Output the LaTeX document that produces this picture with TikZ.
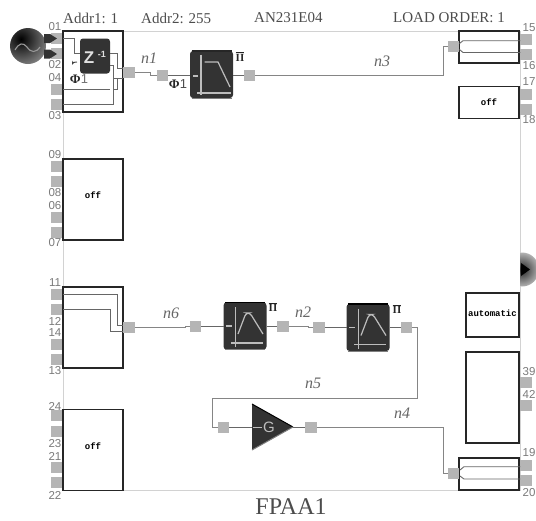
\documentclass[tikz,border=0pt]{standalone}
\usepackage{fontspec}
\setmainfont{Liberation Serif}
\setsansfont{Liberation Sans}
\setmonofont{Liberation Mono}
\usetikzlibrary{arrows.meta}
\definecolor{padgray}{HTML}{B5B5B5}
\definecolor{framegray}{HTML}{D2D2D2}
\definecolor{wiregray}{HTML}{858585}
\definecolor{linkgray}{HTML}{666666}
\definecolor{boxdark}{HTML}{333333}
\definecolor{icongray}{HTML}{BDBDBD}
\definecolor{labelgray}{HTML}{7A7A7A}
\tikzset{
  padbox/.style={fill=padgray,draw=none,minimum width=11.5pt,minimum height=11pt,inner sep=0pt,outer sep=0pt},
  cambox/.style={draw=black!85,line width=1.1pt,fill=white,inner sep=0pt,outer sep=0pt},
  darkbox/.style={fill=boxdark,draw=none,rounded corners=3pt,inner sep=0pt,outer sep=0pt,minimum width=43pt,minimum height=47pt},
  wire/.style={draw=wiregray,line width=0.6pt},
  inwire/.style={draw=linkgray,line width=0.9pt},
  pinlabel/.style={font=\sffamily\fontsize{11.5}{11.5}\selectfont,text=labelgray,inner sep=0pt},
  toptext/.style={font=\fontsize{15}{15}\selectfont,text=black!70,anchor=west,inner sep=0pt},
  netlabel/.style={font=\itshape\fontsize{16}{16}\selectfont,text=black!60,inner sep=0pt},
  modetext/.style={font=\ttfamily\bfseries\fontsize{9}{9}\selectfont,inner sep=0pt},
  clocktext/.style={font=\fontsize{13}{13}\selectfont,text=black!85,inner sep=0pt},
  phasetext/.style={font=\fontsize{11}{11}\selectfont,text=black!85,inner sep=0pt},
}
\newcommand{\lowpassicon}[1]{
  \begin{scope}[shift={(#1)},draw=icongray,line width=1.2pt]
  \draw (-10.5,-20) -- (-10.5,20);
  \draw (-14.5,18.5) -- (19.5,18.5);
  \draw (-18.5,1.5) -- (-13.5,1.5);
  \draw (-7,-12.5) -- (6.5,-12.5) -- (18.5,12.5);
  \draw[black!85] (-20,-23.5) -- (20,-23.5);
  \draw[gray] (-20,23.8) -- (20,23.8);
  \end{scope}
}
\newcommand{\bandpassicon}[1]{
  \begin{scope}[shift={(#1)},draw=icongray,line width=1.2pt]
  \draw (-9.5,-19) -- (-9.5,21);
  \draw (-14,17) -- (18,17);
  \draw (-19,0) -- (-13.5,0);
  \draw[rounded corners=3pt] (-7,8) -- (1,-13) -- (5,-13) -- (18,8);
  \draw[black] (-20,-23.5) -- (20,-23.5);
  \draw[gray] (-20,23.8) -- (20,23.8);
  \end{scope}
}
\begin{document}
\begin{tikzpicture}[x=1pt,y=-1pt]
\useasboundingbox (0,0) rectangle (536,520);
% chip outline
\draw[framegray,line width=1pt] (63,31) rectangle (520,490);
% pins
\foreach \nm/\x/\y in {a/57/38.5,b/57/53,c/57/89.5,d/57/104.5,
    e/57/166.5,f/57/181.5,g/57/217.5,h/57/232.5,
    i/57/294,j/57/309.5,k/57/344.5,l/57/359.5,
    m/57/415.5,n/57/431,o/57/467,p/57/482,
    q/526/39,r/526/54,s/526/94,t/526/109,
    u/526/382.5,v/526/405.5,w/526/465.5,y/526/480.5}
  \node[padbox] (pin\nm) at (\x,\y) {};
% pin numbers
\foreach \txt/\x/\y in {01/55/27,02/55/65,04/55/78,03/55/116,
    09/55/155,08/55/193,06/55/206,07/55/243,
    11/55/283,12/55/321,14/55/333,13/55/371,
    24/55/406,23/55/444,21/55/456,22/55/495,
    15/529/28,16/529/66,17/529/82,18/529/120,
    39/529/372,42/529/394,19/529/453,20/529/493}
  \node[pinlabel] (num\txt) at (\x,\y) {\txt};
% header
\node[toptext] (addra) at (63,18) {Addr1: 1};
\node[toptext] (addrb) at (141,18) {Addr2: 255};
\node[toptext] (chip) at (254,18) {AN231E04};
\node[toptext] (order) at (393,18) {LOAD ORDER: 1};
\node[font=\fontsize{24}{24}\selectfont,text=black!70,inner sep=0pt] (fpaa) at (291,507) {FPAA1};
% configurable blocks
\node[cambox,minimum width=60pt,minimum height=81pt] (camin) at (93,71.5) {};
\node[cambox,minimum width=60pt,minimum height=81pt] (camoffa) at (93,199.5) {};
\node[modetext] (offa) at (93,195.5) {off};
\node[cambox,minimum width=60pt,minimum height=81pt] (camdiff) at (93,327.5) {};
\node[cambox,minimum width=60pt,minimum height=81pt] (camoffb) at (93,450) {};
\node[modetext] (offb) at (93,446) {off};
\node[cambox,minimum width=60pt,minimum height=32pt] (camouta) at (489,47) {};
\node[cambox,minimum width=60pt,minimum height=32pt] (camoffc) at (489,102.5) {};
\node[modetext] (offc) at (489,102) {off};
\node[cambox,minimum width=53pt,minimum height=44pt] (camauto) at (492.5,315) {};
\node[modetext] (autotext) at (492.5,313.5) {automatic};
\node[cambox,minimum width=53pt,minimum height=91pt] (camblank) at (492.5,397.5) {};
\node[cambox,minimum width=60pt,minimum height=32pt] (camoutb) at (489,474) {};
% signal path pads
\node[padbox] (zout) at (129,72.5) {};
\node[padbox] (lpfin) at (162.5,75.5) {};
\node[padbox] (lpfout) at (249.5,75.5) {};
\node[padbox] (outain) at (453.5,46.5) {};
\node[padbox] (diffout) at (129,327.5) {};
\node[padbox] (bpain) at (195.7,326) {};
\node[padbox] (bpaout) at (283,326) {};
\node[padbox] (bpbin) at (319,327.5) {};
\node[padbox] (bpbout) at (406.7,327.5) {};
\node[padbox] (gainin) at (223.5,427) {};
\node[padbox] (gainout) at (311,427) {};
\node[padbox] (outbin) at (453.7,473) {};
% dark blocks
\node[darkbox,minimum width=30pt,minimum height=35pt] (delay) at (95,56) {};
\node[darkbox] (lpf) at (211.5,74.5) {};
\node[darkbox] (bpa) at (245,326) {};
\node[darkbox] (bpb) at (368,327.5) {};
\lowpassicon{lpf}
\bandpassicon{bpa}
\bandpassicon{bpb}
\coordinate (gaintip) at (293,427);
\coordinate (gaintop) at (252,404);
\coordinate (gainlow) at (252,450);
\fill[boxdark] (gaintop) -- (gaintip) -- (gainlow) -- cycle;
\draw[black,line width=1pt] (gaintop) -- (gaintip);
\draw[gray,line width=1pt] (gainlow) -- (gaintip);
\node[font=\sffamily\fontsize{15}{15}\selectfont,text=icongray,inner sep=0pt] (gain) at (269,427) {G};
\draw[icongray,line width=0.8pt] (253,427) -- (262,427);
% block labels
\node[font=\sffamily\bfseries\fontsize{17}{17}\selectfont,text=black!12,inner sep=0pt] (ztext) at (89,58) {Z};
\node[font=\sffamily\bfseries\fontsize{9}{9}\selectfont,text=black!12,inner sep=0pt] (zexp) at (102,54) {-1};
\foreach \nm/\x/\y in {a/240/56.5,b/273/307,c/397/309}
  \node[phasetext] (phase\nm) at (\x,\y) {$\overline{\mathbf{II}}$};
\node[clocktext] (clka) at (79,79) {\textbf{Φ}{\sffamily\color{black!55}1}};
\node[clocktext] (clkb) at (178,84) {\textbf{Φ}{\sffamily\color{black!70}1}};
% net names
\node[netlabel] (netone) at (149,58) {n1};
\node[netlabel] (netthree) at (382,61) {n3};
\node[netlabel] (netsix) at (171,313) {n6};
\node[netlabel] (nettwo) at (303,312) {n2};
\node[netlabel] (netfive) at (313,383) {n5};
\node[netlabel] (netfour) at (402,413) {n4};
% routes
\coordinate (kinka) at (150,75.5);
\coordinate (kinkb) at (443,46.5);
\coordinate (kinkc) at (185,326);
\coordinate (kinkd) at (308,327.5);
\coordinate (kinke) at (417,398);
\coordinate (kinkf) at (212,398);
\coordinate (kinkg) at (443.3,473);
\draw[wire] (zout.east) -| (kinka) -- (lpfin.west);
\draw[wire] (lpfout.east) -| (kinkb) -- (outain.west);
\draw[wire] (diffout.east) -| (kinkc) -- (bpain.west);
\draw[wire] (bpaout.east) -| (kinkd) -- (bpbin.west);
\draw[wire] (bpbout.east) -| (kinke) -- (kinkf) |- (gainin.west);
\draw[wire] (gainout.east) -| (kinkg) -- (outbin.west);
\draw[inwire] (lpfin.east) -- (lpfin.east -| lpf.west);
\draw[inwire] (lpfout.west) -- (lpfout.west -| lpf.east);
\draw[inwire] (bpain.east) -- (bpa.west);
\draw[inwire] (bpa.east) -- (bpaout.west);
\draw[inwire] (bpbin.east) -- (bpb.west);
\draw[inwire] (bpb.east) -- (bpbout.west);
\draw[inwire] (gainin.east) -- (gaintop |- gainin.east);
\draw[inwire] (gaintip) -- (gainout.west);
% routes inside the input block
\coordinate (delayin) at (delay.west |- 0,53);
\coordinate (delayhi) at (delay.east |- 0,53);
\coordinate (delaylo) at (delay.east |- 0,65);
\coordinate (zhi) at (zout.west |- 0,68);
\coordinate (zlo) at (zout.west |- 0,78);
\coordinate (tapd) at (113,78);
\coordinate (jhook) at (114,89.5);
\draw[inwire] (pina.east) -| (74,53) -- (delayin);
\draw[inwire] (delayhi) -| (117,68) -- (zhi);
\draw[inwire] (delaylo) -| (113,104.5) -- (pind.east);
\draw[inwire] (pinc.east) -- (110,89.5);
\draw[inwire] (tapd) -- (zlo);
\draw[inwire] (117,78) |- (jhook);
\draw[-{Stealth[length=4pt]},line width=0.9pt,black!75] (77,62) -- (73,62.5) -- (72,65);
% routes inside the sum block
\coordinate (diffhi) at (diffout.west |- 0,325);
\coordinate (difflo) at (diffout.west |- 0,331);
\draw[inwire] (pini.east) -| (117,325) -- (diffhi);
\draw[inwire] (pinj.east) -| (110,331) -- (difflo);
% output blocks
\draw[inwire] (459.5,43.5) -- (463,40.7) -- (pinq.west |- 0,40.7);
\draw[inwire] (459.5,49.5) -- (463,52.5) -- (pinr.west |- 0,52.5);
\draw[inwire] (460,470) -- (464,466.7) -- (pinw.west |- 0,466.7);
\draw[inwire] (460,476) -- (464,479) -- (piny.west |- 0,479);
% signal source
\begin{scope}
\clip (28,46) circle (18);
\shade[inner color=black,outer color=black!40] (21,39) circle (33);
\end{scope}
\draw[black!40,line width=1.1pt] (15,50) .. controls (19,43) and (23,42) .. (27,47) .. controls (31,53) and (36,53) .. (40,47);
\fill[black!80] (44,34) -- (50,34) -- (57,38.5) -- (50,43) -- (44,43) -- cycle;
\fill[black!80] (44,49.5) -- (50,49.5) -- (57,54) -- (50,58.5) -- (44,58.5) -- cycle;
% marker on right edge
\begin{scope}
\clip (520.5,250) rectangle (536,290);
\shade[inner color=black!85,outer color=black!30] (522,269.5) circle (17);
\fill[black] (521,263) -- (530,269.5) -- (521,276) -- cycle;
\end{scope}
\end{tikzpicture}
\end{document}
